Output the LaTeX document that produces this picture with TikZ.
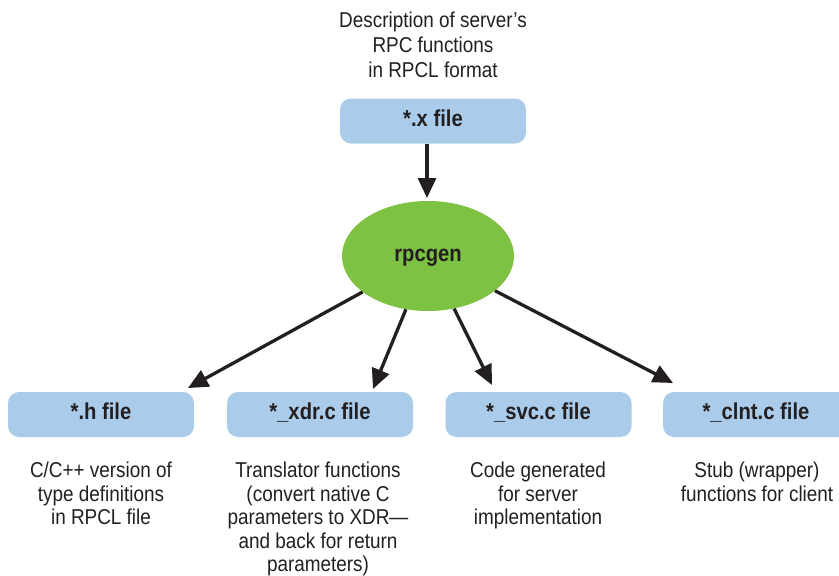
\documentclass[tikz,border=0pt]{standalone}
\usepackage{fontspec}
\setmainfont{Liberation Sans}[FakeStretch=0.88]
\usetikzlibrary{arrows.meta,shapes.geometric}
\definecolor{boxblue}{HTML}{AACCEA}
\definecolor{gengreen}{HTML}{7DC242}
\definecolor{ink}{HTML}{231F20}
\tikzset{
  boldlabel/.style={text=ink, text height=15pt, text depth=5pt, font=\fontsize{23}{25}\selectfont\bfseries},
  filebox/.style={boldlabel, fill=boxblue, rounded corners=11pt, minimum width=186pt, minimum height=45pt, inner sep=0pt},
  desc/.style={align=center, inner sep=0pt, text=ink, font=\fontsize{21.5}{23.5}\selectfont},
  flow/.style={draw=ink, line width=3.3pt, -{Triangle[length=20pt,width=18pt]}},
}
\begin{document}
\begin{tikzpicture}[x=1pt,y=-1pt]
\useasboundingbox (0,0) rectangle (839,576);
\node[desc, font=\fontsize{21.5}{25}\selectfont] (top) at (433,45) {Description of server’s\\RPC functions\\in RPCL format};
\node[filebox] (x) at (433,121) {*.x file};
\node[boldlabel, ellipse, fill=gengreen, minimum width=172pt, minimum height=110pt, inner sep=0pt] (rpc) at (428,256) {rpcgen};
\node[filebox] (h) at (101,414.5) {*.h file};
\node[filebox] (xdr) at (320,414.5) {*\_xdr.c file};
\node[filebox] (svc) at (538.5,414.5) {*\_svc.c file};
\node[filebox] (clnt) at (756,414.5) {*\_clnt.c file};
\node[desc, anchor=north] (dh) at (101,462) {C/C++ version of\\type definitions\\in RPCL file};
\node[desc, anchor=north] (dxdr) at (318,462) {Translator functions\\(convert native C\\parameters to XDR—\\and back for return\\parameters)};
\node[desc, anchor=north] (dsvc) at (538,462) {Code generated\\for server\\implementation};
\node[desc, anchor=north] (dclnt) at (757,462) {Stub (wrapper)\\functions for client};
\coordinate (th) at (188,388);
\coordinate (txdr) at (373,389);
\coordinate (tsvc) at (492,385);
\coordinate (tclnt) at (673,383);
\coordinate (tx) at (427,198);
\draw[flow] (x.south -| tx) -- (tx);
\draw[flow] (rpc) -- (th);
\draw[flow] (rpc) -- (txdr);
\draw[flow] (rpc) -- (tsvc);
\draw[flow] (rpc) -- (tclnt);
\end{tikzpicture}
\end{document}
